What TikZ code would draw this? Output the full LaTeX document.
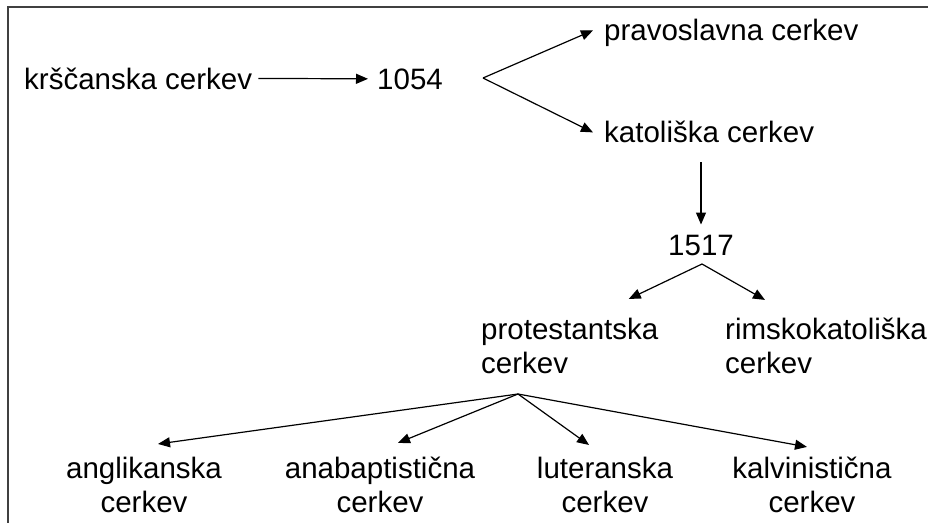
\documentclass[tikz,border=0pt]{standalone}
\usepackage{fontspec}
\setmainfont{Liberation Sans}
\usetikzlibrary{positioning,arrows.meta,calc}
\tikzset{
  lbl/.style   = {inner sep=6pt, font=\fontsize{29.5}{34}\selectfont},
  lblL/.style  = {lbl, align=left},
  lblC/.style  = {lbl, align=center},
  flow/.style  = {-{Triangle[length=12pt,width=10pt]}, black, line width=1.2pt},
  frame/.style = {draw=black!75, line width=1.4pt},
}
\begin{document}
\begin{tikzpicture}[x=1pt, y=-1pt]
  \path[use as bounding box, fill=white] (0,0) rectangle (928,522);
  \draw[frame] (8,540) |- (950,7);

  % ---- schism of 1054 ------------------------------------------------
  \node[lbl, anchor=base west] (kr)    at (18,89)   {krščanska cerkev};
  \node[lbl, anchor=base west] (n1054) at (371,89)  {1054};
  \node[lbl, anchor=base west] (prav)  at (598,40)  {pravoslavna cerkev};
  \node[lbl, anchor=base west] (kat)   at (598,142) {katoliška cerkev};
  \coordinate (f54) at (483,78);

  \draw[flow, shorten >=3pt] (kr.east) -- (n1054.west);
  \draw[flow] (f54) -- ($(prav.west)+(-5,-2)$);
  \draw[flow] (f54) -- ($(kat.west)+(-5,1)$);

  % ---- reformation 1517 ----------------------------------------------
  \node[lbl, anchor=base] (n1517) at (701,255) {1517};
  \node[lblL, anchor=west] (prot) at (475,346) {protestantska\\cerkev};
  \node[lblL, anchor=west] (rim)  at (719,346) {rimskokatoliška\\cerkev};
  \coordinate (f17) at (702,264);

  \draw[flow, shorten <=14pt] (kat.south -| n1517.north) -- ($(n1517.north)+(0,-4)$);
  \draw[flow] (f17) -- ($(prot.north)+(59,-13)$);
  \draw[flow] (f17) -- ($(rim.north)+(-61,-12)$);

  % ---- protestant churches -------------------------------------------
  \node[lblC] (angl) at (144,485) {anglikanska\\cerkev};
  \node[lblC] (anab) at (380,485) {anabaptistična\\cerkev};
  \node[lblC] (lut)  at (605,485) {luteranska\\cerkev};
  \node[lblC] (kalv) at (812,485) {kalvinistična\\cerkev};
  \coordinate (fpr) at (518,394);

  \foreach \t/\dx/\dy in {angl/14/-7, anab/18/-8, lut/-16/-6, kalv/-5/-4}
    \draw[flow] (fpr) -- ($(\t.north)+(\dx,\dy)$);

\end{tikzpicture}
\end{document}
